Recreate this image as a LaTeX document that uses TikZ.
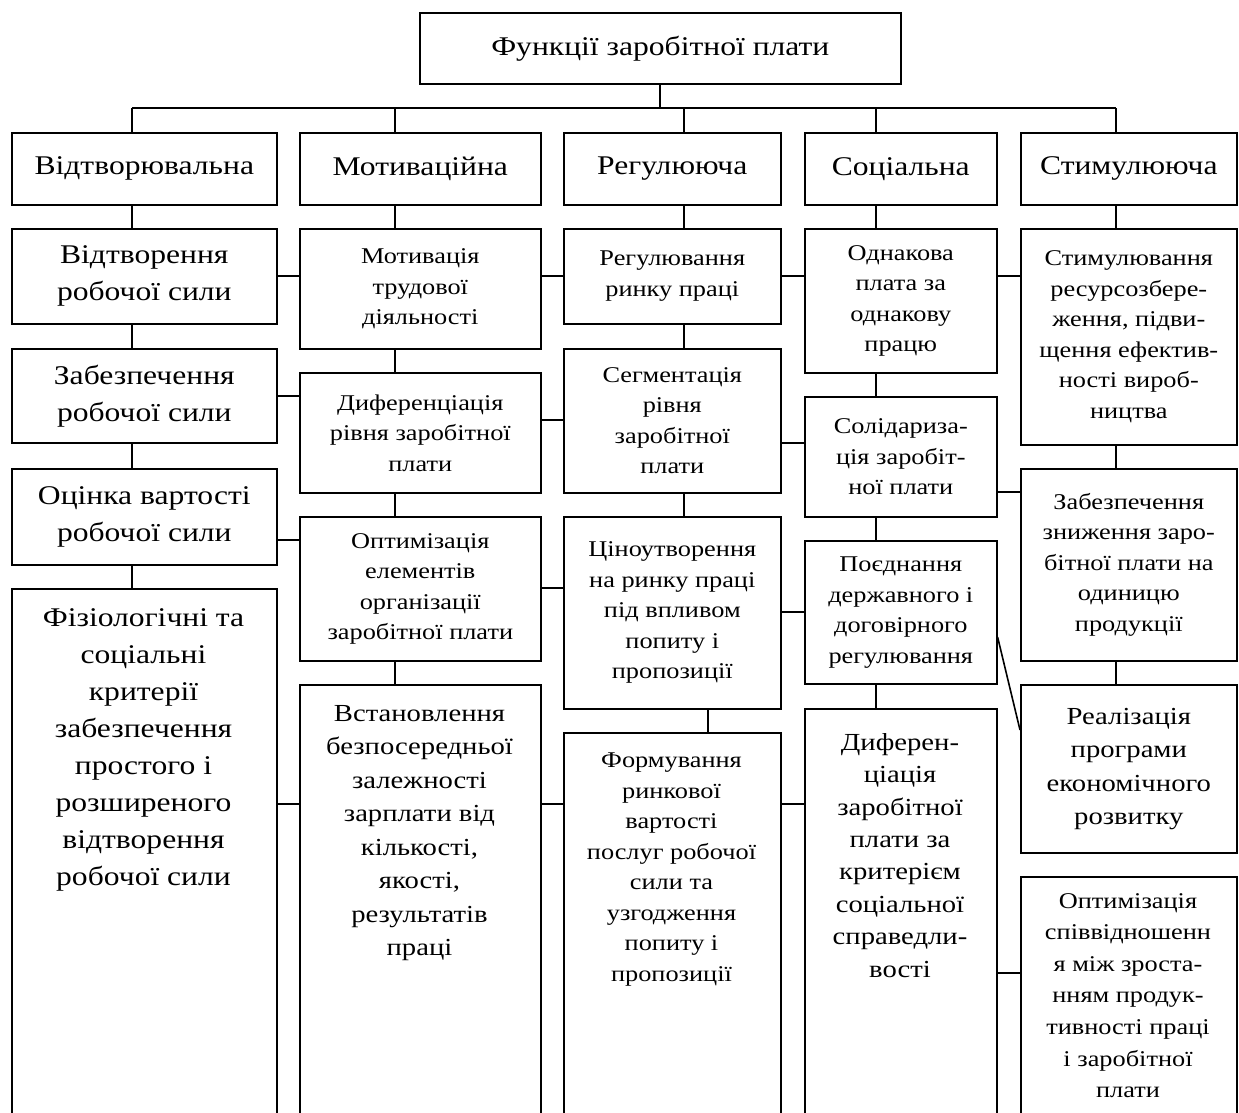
\documentclass[tikz,border=0pt]{standalone}
\usepackage{fontspec}
\setmainfont{Liberation Serif}[FakeStretch=1.17]
\begin{document}
\begin{tikzpicture}[x=1pt,y=-1pt,
  box/.style={draw, line width=1.6pt, inner sep=0pt, align=center, anchor=north west},
  conn/.style={line width=1.6pt},
  txt/.style={inner sep=0pt, align=center, anchor=north},
  big/.style={font=\fontsize{27}{37}\selectfont},
  med/.style={font=\fontsize{24.5}{33.5}\selectfont},
  sml/.style={font=\fontsize{22.5}{30.5}\selectfont}]
\useasboundingbox (0,0) rectangle (1239,1112);
\clip (0,0) rectangle (1239,1112);
\fill[white] (0,0) rectangle (1239,1112);
% title
\node[box, big, minimum width=481pt, minimum height=71pt] (T) at (419,12) {Функції заробітної плати};
% level 1
\node[box, big, minimum width=265pt, minimum height=72pt] (L1a) at (11,132) {Відтворювальна};
\node[box, big, minimum width=241pt, minimum height=72pt] (L1b) at (299,132) {Мотиваційна};
\node[box, big, minimum width=217pt, minimum height=72pt] (L1c) at (563,132) {Регулююча};
\node[box, big, minimum width=192pt, minimum height=72pt] (L1d) at (804,132) {Соціальна};
\node[box, big, minimum width=216pt, minimum height=72pt] (L1e) at (1020,132) {Стимулююча};
% column 1
\node[box, big, minimum width=265pt, minimum height=95pt] (A2) at (11,228) {Відтворення\\робочої сили};
\node[box, big, minimum width=265pt, minimum height=94pt] (A3) at (11,348) {Забезпечення\\робочої сили};
\node[box, big, minimum width=265pt, minimum height=96pt] (A4) at (11,468) {Оцінка вартості\\робочої сили};
\node[box, minimum width=265pt, minimum height=552pt] (A5) at (11,588) {};
\node[txt, big] (A5t) at (143.5,608) {Фізіологічні та\\соціальні\\критерії\\забезпечення\\простого і\\розширеного\\відтворення\\робочої сили};
% column 2
\node[box, sml, minimum width=241pt, minimum height=120pt] (B2) at (299,228) {Мотивація\\трудової\\діяльності};
\node[box, sml, minimum width=241pt, minimum height=120pt] (B3) at (299,372) {Диференціація\\рівня заробітної\\плати};
\node[box, sml, minimum width=241pt, minimum height=144pt] (B4) at (299,516) {Оптимізація\\елементів\\організації\\заробітної плати};
\node[box, minimum width=241pt, minimum height=456pt] (B5) at (299,684) {};
\node[txt, med] (B5t) at (419.5,705) {Встановлення\\безпосередньої\\залежності\\зарплати від\\кількості,\\якості,\\результатів\\праці};
% column 3
\node[box, sml, minimum width=217pt, minimum height=95pt] (C2) at (563,228) {Регулювання\\ринку праці};
\node[box, sml, minimum width=217pt, minimum height=144pt] (C3) at (563,348) {Сегментація\\рівня\\заробітної\\плати};
\node[box, sml, minimum width=217pt, minimum height=192pt] (C4) at (563,516) {Ціноутворення\\на ринку праці\\під впливом\\попиту і\\пропозиції};
\node[box, minimum width=217pt, minimum height=408pt] (C5) at (563,732) {};
\node[txt, sml] (C5t) at (671.5,753) {Формування\\ринкової\\вартості\\послуг робочої\\сили та\\узгодження\\попиту і\\пропозиції};
% column 4
\node[box, sml, minimum width=192pt, minimum height=144pt] (D2) at (804,228) {Однакова\\плата за\\однакову\\працю};
\node[box, sml, minimum width=192pt, minimum height=120pt] (D3) at (804,396) {Солідариза-\\ція заробіт-\\ної плати};
\node[box, sml, minimum width=192pt, minimum height=143pt] (D4) at (804,540) {Поєднання\\державного і\\договірного\\регулювання};
\node[box, minimum width=192pt, minimum height=432pt] (D5) at (804,708) {};
\node[txt, font=\fontsize{24.5}{32.4}\selectfont] (D5t) at (900,733) {Диферен-\\ціація\\заробітної\\плати за\\критерієм\\соціальної\\справедли-\\вості};
% column 5
\node[box, sml, minimum width=216pt, minimum height=216pt] (E2) at (1020,228) {Стимулювання\\ресурсозбере-\\ження, підви-\\щення ефектив-\\ності вироб-\\ництва};
\node[box, sml, minimum width=216pt, minimum height=192pt] (E3) at (1020,468) {Забезпечення\\зниження заро-\\бітної плати на\\одиницю\\продукції};
\node[box, med, minimum width=216pt, minimum height=168pt] (E4) at (1020,684) {Реалізація\\програми\\економічного\\розвитку};
\node[box, minimum width=216pt, minimum height=264pt] (E5) at (1020,876) {};
\node[txt, font=\fontsize{22.5}{31.6}\selectfont] (E5t) at (1128,893) {Оптимізація\\співвідношенн\\я між зроста-\\нням продук-\\тивності праці\\і заробітної\\плати};
% connector coordinates
\coordinate (xt) at (660,0);
\coordinate (xa) at (132,0);
\coordinate (xb) at (395,0);
\coordinate (xc) at (684,0);
\coordinate (xc2) at (708,0);
\coordinate (xd) at (876,0);
\coordinate (xe) at (1116,0);
\coordinate (busL) at (132,108);
\coordinate (busR) at (1116,108);
% tree from title
\draw[conn] (T.south -| xt) -- (busL -| xt);
\draw[conn] (busL) -- (busR);
\draw[conn] (busL) -- (L1a.north -| xa);
\draw[conn] (busL -| xb) -- (L1b.north -| xb);
\draw[conn] (busL -| xc) -- (L1c.north -| xc);
\draw[conn] (busL -| xd) -- (L1d.north -| xd);
\draw[conn] (busR) -- (L1e.north -| xe);
% vertical chains
\draw[conn] (L1a.south -| xa) -- (A2.north -| xa);
\draw[conn] (A2.south -| xa) -- (A3.north -| xa);
\draw[conn] (A3.south -| xa) -- (A4.north -| xa);
\draw[conn] (A4.south -| xa) -- (A5.north -| xa);
\draw[conn] (L1b.south -| xb) -- (B2.north -| xb);
\draw[conn] (B2.south -| xb) -- (B3.north -| xb);
\draw[conn] (B3.south -| xb) -- (B4.north -| xb);
\draw[conn] (B4.south -| xb) -- (B5.north -| xb);
\draw[conn] (L1c.south -| xc) -- (C2.north -| xc);
\draw[conn] (C2.south -| xc) -- (C3.north -| xc);
\draw[conn] (C3.south -| xc) -- (C4.north -| xc);
\draw[conn] (C4.south -| xc2) -- (C5.north -| xc2);
\draw[conn] (L1d.south -| xd) -- (D2.north -| xd);
\draw[conn] (D2.south -| xd) -- (D3.north -| xd);
\draw[conn] (D3.south -| xd) -- (D4.north -| xd);
\draw[conn] (D4.south -| xd) -- (D5.north -| xd);
\draw[conn] (L1e.south -| xe) -- (E2.north -| xe);
\draw[conn] (E2.south -| xe) -- (E3.north -| xe);
\draw[conn] (E3.south -| xe) -- (E4.north -| xe);
% horizontal links
\draw[conn] (A2.east |- 0,276) -- (B2.west |- 0,276);
\draw[conn] (B2.east |- 0,276) -- (C2.west |- 0,276);
\draw[conn] (C2.east |- 0,276) -- (D2.west |- 0,276);
\draw[conn] (D2.east |- 0,276) -- (E2.west |- 0,276);
\draw[conn] (A3.east |- 0,396) -- (B3.west |- 0,396);
\draw[conn] (B3.east |- 0,420) -- (C3.west |- 0,420);
\draw[conn] (C3.east |- 0,443) -- (D3.west |- 0,443);
\draw[conn] (D3.east |- 0,492) -- (E3.west |- 0,492);
\draw[conn] (A4.east |- 0,540) -- (B4.west |- 0,540);
\draw[conn] (B4.east |- 0,588) -- (C4.west |- 0,588);
\draw[conn] (C4.east |- 0,612) -- (D4.west |- 0,612);
\draw[conn] (D4.east |- 0,637) -- (E4.west |- 0,730);
\draw[conn] (A5.east |- 0,804) -- (B5.west |- 0,804);
\draw[conn] (B5.east |- 0,804) -- (C5.west |- 0,804);
\draw[conn] (C5.east |- 0,804) -- (D5.west |- 0,804);
\draw[conn] (D5.east |- 0,973) -- (E5.west |- 0,973);
\end{tikzpicture}
\end{document}
